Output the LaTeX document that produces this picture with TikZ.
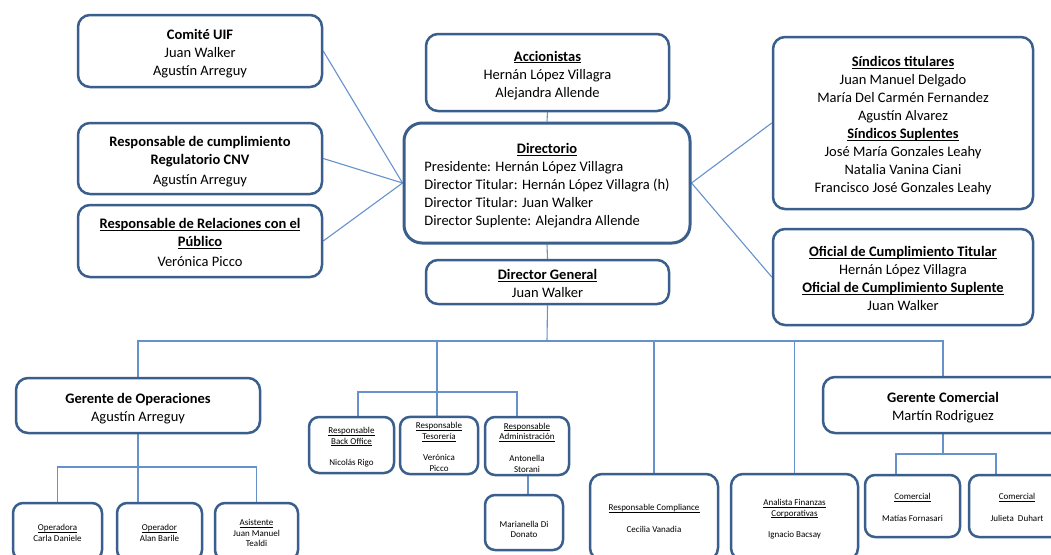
\documentclass[tikz,border=0pt]{standalone}
\usepackage{fontspec}
\setmainfont{Carlito}
\usetikzlibrary{backgrounds}
\newcommand\ulx[1]{\leavevmode\rlap{\underline{\smash{\phantom{#1}}}}#1}
\newcommand\tp{\rule{0pt}{17pt}}
\newcommand\bt{\rule[-3.9pt]{0pt}{3.9pt}}
\newcommand\tps{\rule{0pt}{11.6pt}}
\newcommand\bts{\rule[-2.4pt]{0pt}{2.4pt}}
\definecolor{boxc}{HTML}{3A5F8C}
\definecolor{linec}{HTML}{6692CC}
\begin{document}
\begin{tikzpicture}[x=1pt,y=-1pt,
 box/.style={draw=boxc,line width=2.5pt,rounded corners=12pt,fill=white,inner sep=0pt,align=center,font=\fontsize{14.5}{18}\selectfont},
 sbox/.style={draw=boxc,line width=2.5pt,rounded corners=10pt,fill=white,inner sep=0pt,align=center,font=\fontsize{9}{10.8}\selectfont},
 conn/.style={draw=linec,line width=1.1pt}]
\clip (0,0) rectangle (1051,554);
% top left
\node[box,minimum width=244pt,minimum height=72pt] (comite) at (200,51) {\tp\textbf{Comité UIF}\\Juan Walker\\Agustín Arreguy\bt};
\node[box,minimum width=244pt,minimum height=71pt] (cnv) at (200,158.5) {\tp\textbf{Responsable de cumplimiento}\\\textbf{Regulatorio CNV}\\[2pt]Agustín Arreguy\bt};
\node[box,minimum width=244pt,minimum height=72pt] (rel) at (200,241) {\tp\ulx{\textbf{Responsable de Relaciones con el}}\\\ulx{\textbf{Público}}\\[2pt]Verónica Picco\bt};
% center
\node[box,minimum width=243pt,minimum height=77pt] (acc) at (547.5,72.5) {\tp\ulx{\textbf{Accionistas}}\\Hernán López Villagra\\Alejandra Allende\bt};
\node[box,line width=3pt,rounded corners=18pt,minimum width=286pt,minimum height=120pt] (dir) at (547,183) {\raisebox{-3pt}[\height][\depth]{\begin{tabular}{@{}l@{}}\multicolumn{1}{@{}c@{}}{\ulx{\textbf{Directorio}}}\\Presidente: Hernán López Villagra\\Director Titular: Hernán López Villagra (h)\\Director Titular: Juan Walker\\Director Suplente: Alejandra Allende\end{tabular}}};
\node[box,minimum width=243pt,minimum height=44pt] (dg) at (547.5,282) {\tp\ulx{\textbf{Director General}}\\Juan Walker\bt};
% right
\node[box,minimum width=260pt,minimum height=172pt] (sind) at (903,123) {\tp\ulx{\textbf{Síndicos titulares}}\\Juan Manuel Delgado\\María Del Carmén Fernandez\\Agustín Alvarez\\\ulx{\textbf{Síndicos Suplentes}}\\José María Gonzales Leahy\\Natalia Vanina Ciani\\Francisco José Gonzales Leahy\bt};
\node[box,minimum width=260pt,minimum height=96pt] (ofi) at (903,277) {\tp\ulx{\textbf{Oficial de Cumplimiento Titular}}\\Hernán López Villagra\\\ulx{\textbf{Oficial de Cumplimiento Suplente}}\\Juan Walker\bt};
% managers
\node[box,minimum width=244pt,minimum height=55pt] (gop) at (138,405.5) {\tp\textbf{Gerente de Operaciones}\\Agustín Arreguy\bt};
\node[box,minimum width=240pt,minimum height=56pt] (gcom) at (943,405) {\tp\textbf{Gerente Comercial}\\Martín Rodriguez\bt};
% small boxes
\node[sbox,minimum width=89pt,minimum height=57pt] (op1) at (57.5,531.5) {\tps\ulx{Operadora}\\Carla Daniele\bts};
\node[sbox,minimum width=85pt,minimum height=57pt] (op2) at (159.5,531.5) {\tps\ulx{Operador}\\Alan Barile\bts};
\node[sbox,minimum width=83pt,minimum height=57pt] (asis) at (256.5,531.5) {\tps\ulx{Asistente}\\Juan Manuel\\Tealdi\bts};
\node[sbox,minimum width=85pt,minimum height=56pt] (bo) at (351.5,445) {\tps\ulx{Responsable}\\\ulx{Back Office}\\[10.8pt]Nicolás Rigo\bts};
\node[sbox,minimum width=78pt,minimum height=55pt] (tes) at (439,445.5) {\tps\ulx{Responsable}\\\ulx{Tesorería}\\[10.8pt]Verónica\\Picco\bts};
\node[sbox,minimum width=84pt,minimum height=58pt] (adm) at (527,446) {\tps\ulx{Responsable}\\\ulx{Administración}\\[10.8pt]Antonella\\Storani\bts};
\node[sbox,minimum width=78pt,minimum height=55pt] (mar) at (524,522.5) {\tps\\Marianella Di\\Donato\bts};
\node[sbox,minimum width=128pt,minimum height=86pt,rounded corners=12pt] (comp) at (654,517) {\tps\ulx{Responsable Compliance}\\[10.8pt]Cecilia Vanadia\bts};
\node[sbox,minimum width=127pt,minimum height=86pt,rounded corners=12pt] (ana) at (794.5,517) {\tps\ulx{Analista Finanzas}\\\ulx{Corporativas}\\[10.8pt]Ignacio Bacsay\bts};
\node[sbox,minimum width=95pt,minimum height=62pt] (com1) at (912.5,506) {\tps\ulx{Comercial}\\[10.8pt]Matías Fornasari\bts};
\node[sbox,minimum width=96pt,minimum height=62pt] (com2) at (1017,506) {\tps\ulx{Comercial}\\[10.8pt]Julieta\ \ Duhart\bts};
% connectors
\coordinate (bus) at (547,341);
\coordinate (obus) at (138,467);
\coordinate (mbus) at (437,392);
\coordinate (cbus) at (943,454);
\coordinate (tesT) at ([xshift=-2pt]tes.north);
\coordinate (boT) at ([xshift=6.5pt]bo.north);
\coordinate (admT) at ([xshift=-10pt]adm.north);
\coordinate (admB) at ([xshift=1pt]adm.south);
\coordinate (c1T) at ([xshift=-16.5pt]com1.north);
\coordinate (c2T) at ([xshift=-21pt]com2.north);
\begin{scope}[on background layer]
\fill[white] (0,0) rectangle (1051,554);
\draw[conn] (acc.south) -- (dir.north);
\draw[conn] (dir.south) -- (dg.north);
\draw[conn] (comite.east) -- (dir.west);
\draw[conn] (cnv.east) -- (dir.west);
\draw[conn] (rel.east) -- (dir.west);
\draw[conn] (sind.west) -- (dir.east);
\draw[conn] (ofi.west) -- (dir.east);
\draw[conn] (dg.south) -- (bus);
\draw[conn] (gop.north) |- (bus) -| (gcom.north);
\draw[conn] (tesT) -- (tesT |- bus);
\draw[conn] (comp.north) -- (comp.north |- bus);
\draw[conn] (ana.north) -- (ana.north |- bus);
\draw[conn] (gop.south) -- (gop.south |- op2.north);
\draw[conn] (op1.north) |- (obus) -| (asis.north);
\draw[conn] (boT) |- (mbus) -| (admT);
\draw[conn] (admB) -- (admB |- mar.north);
\draw[conn] (gcom.south) -- (cbus);
\draw[conn] (c1T) |- (cbus) -| (c2T);
\end{scope}
\end{tikzpicture}
\end{document}
